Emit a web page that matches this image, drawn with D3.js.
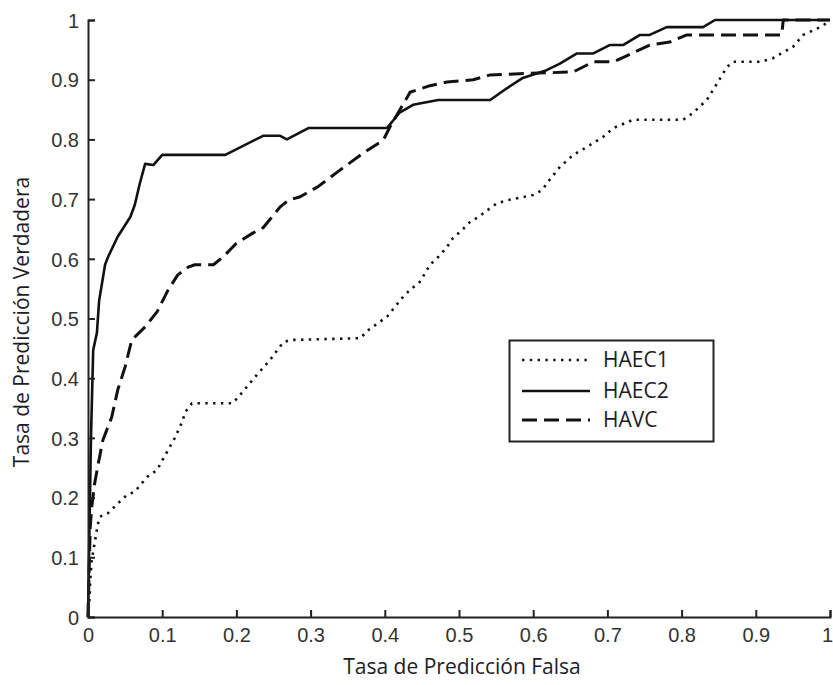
<!DOCTYPE html>
<html>
<head>
<meta charset="utf-8">
<script src="https://cdn.jsdelivr.net/npm/d3@7"></script>
<style>
  html, body { margin: 0; padding: 0; background: #fff; }
  svg { display: block; }
  .tick text { font-family: "Liberation Sans", Arial, sans-serif; font-size: 20px; fill: #333; }
  .title { font-family: "Open Sans", "Noto Sans", sans-serif; font-size: 21px; fill: #1c1c28; }
  .legend text { font-family: "Open Sans", "Noto Sans", sans-serif; font-size: 21px; fill: #1c1c28; }
</style>
</head>
<body>
<svg id="chart" width="833" height="685"></svg>
<script>
// ROC curves: false positive rate vs. true positive rate
const seriesNames = ["HAEC1", "HAEC2", "HAVC"];

const haec1Fpr = [0, 0.002, 0.003, 0.005, 0.009, 0.013, 0.016, 0.027, 0.04, 0.052, 0.063, 0.08, 0.093, 0.104, 0.117, 0.127, 0.131, 0.14, 0.195, 0.205, 0.225, 0.245, 0.263, 0.272, 0.367, 0.377, 0.403, 0.423, 0.434, 0.447, 0.461, 0.472, 0.484, 0.492, 0.504, 0.515, 0.526, 0.539, 0.551, 0.565, 0.6, 0.612, 0.62, 0.636, 0.654, 0.672, 0.694, 0.708, 0.735, 0.802, 0.815, 0.834, 0.848, 0.861, 0.869, 0.906, 0.923, 0.95, 0.964, 0.99, 1];
const haec1Tpr = [0, 0.03, 0.062, 0.095, 0.124, 0.154, 0.168, 0.174, 0.19, 0.204, 0.21, 0.235, 0.246, 0.271, 0.3, 0.327, 0.343, 0.358, 0.358, 0.372, 0.402, 0.43, 0.46, 0.464, 0.467, 0.48, 0.503, 0.534, 0.548, 0.561, 0.59, 0.603, 0.62, 0.635, 0.648, 0.662, 0.67, 0.682, 0.693, 0.698, 0.707, 0.715, 0.729, 0.754, 0.774, 0.787, 0.804, 0.819, 0.833, 0.833, 0.844, 0.866, 0.894, 0.921, 0.93, 0.93, 0.936, 0.955, 0.975, 0.99, 1];

const haec2Fpr = [0, 0.002, 0.004, 0.007, 0.012, 0.015, 0.019, 0.023, 0.027, 0.04, 0.057, 0.063, 0.07, 0.077, 0.088, 0.1, 0.185, 0.236, 0.259, 0.268, 0.297, 0.403, 0.42, 0.438, 0.472, 0.542, 0.565, 0.586, 0.618, 0.636, 0.659, 0.681, 0.703, 0.721, 0.744, 0.757, 0.78, 0.829, 0.845, 1];
const haec2Tpr = [0, 0.15, 0.3, 0.447, 0.476, 0.53, 0.56, 0.59, 0.603, 0.637, 0.67, 0.69, 0.727, 0.759, 0.757, 0.774, 0.774, 0.806, 0.806, 0.8, 0.819, 0.819, 0.845, 0.858, 0.866, 0.866, 0.886, 0.903, 0.916, 0.927, 0.944, 0.944, 0.958, 0.958, 0.975, 0.975, 0.988, 0.988, 1, 1];

const havcFpr = [0, 0.003, 0.005, 0.009, 0.014, 0.02, 0.032, 0.04, 0.05, 0.059, 0.077, 0.093, 0.108, 0.121, 0.135, 0.144, 0.169, 0.182, 0.2, 0.222, 0.236, 0.259, 0.27, 0.286, 0.309, 0.34, 0.371, 0.398, 0.407, 0.42, 0.43, 0.434, 0.461, 0.484, 0.519, 0.542, 0.582, 0.654, 0.681, 0.708, 0.726, 0.757, 0.784, 0.807, 0.935, 0.937, 1];
const havcTpr = [0, 0.15, 0.184, 0.224, 0.258, 0.296, 0.335, 0.38, 0.419, 0.464, 0.486, 0.511, 0.548, 0.573, 0.586, 0.59, 0.59, 0.603, 0.626, 0.643, 0.652, 0.687, 0.698, 0.704, 0.72, 0.749, 0.777, 0.799, 0.821, 0.849, 0.87, 0.879, 0.89, 0.896, 0.9, 0.908, 0.91, 0.913, 0.93, 0.93, 0.94, 0.958, 0.963, 0.975, 0.975, 1, 1];

const xTicks = [0, 0.1, 0.2, 0.3, 0.4, 0.5, 0.6, 0.7, 0.8, 0.9, 1];
const yTicks = [0, 0.1, 0.2, 0.3, 0.4, 0.5, 0.6, 0.7, 0.8, 0.9, 1];
const xTitle = "Tasa de Predicción Falsa";
const yTitle = "Tasa de Predicción Verdadera";

const svg = d3.select("#chart");
const margin = { left: 88, right: 3, top: 20, bottom: 68 };
const W = 833, H = 685;

const x = d3.scaleLinear().domain([0, 1]).range([margin.left, W - margin.right]);
const y = d3.scaleLinear().domain([0, 1]).range([H - margin.bottom, margin.top]);

const zip = (a, b) => a.map((v, i) => [v, b[i]]);
const series = [
  { name: seriesNames[0], pts: zip(haec1Fpr, haec1Tpr), dash: "2.4,5.4", width: 2.6 },
  { name: seriesNames[1], pts: zip(haec2Fpr, haec2Tpr), dash: null, width: 2.6 },
  { name: seriesNames[2], pts: zip(havcFpr, havcTpr), dash: "15,7", width: 3 }
];

const line = d3.line().x(d => x(d[0])).y(d => y(d[1]));

svg.selectAll("path.curve")
  .data(series)
  .join("path")
  .attr("class", "curve")
  .attr("d", d => line(d.pts))
  .attr("fill", "none")
  .attr("stroke", "#111")
  .attr("stroke-width", d => d.width)
  .attr("stroke-linejoin", "round")
  .attr("stroke-dasharray", d => d.dash);

// Axes (left and bottom only, ticks pointing inward)
const xAxis = svg.append("g")
  .attr("transform", `translate(0,${y(0)})`)
  .call(d3.axisBottom(x).tickValues(xTicks).tickSize(-7).tickPadding(19)
    .tickFormat(d => d3.format("~g")(d)));
const yAxis = svg.append("g")
  .attr("transform", `translate(${x(0)},0)`)
  .call(d3.axisLeft(y).tickValues(yTicks).tickSize(-7).tickPadding(9)
    .tickFormat(d => d3.format("~g")(d)));

[xAxis, yAxis].forEach(g => {
  g.select(".domain").attr("stroke", "#222").attr("stroke-width", 2);
  g.selectAll(".tick line").attr("stroke", "#222").attr("stroke-width", 2);
});
xAxis.selectAll(".tick text").attr("dy", "0.32em");
// keep the last label inside the page edge
xAxis.selectAll(".tick text").filter(d => d === 1).attr("dx", -3);
yAxis.selectAll(".tick text").attr("dy", "0.36em");

// Axis titles
svg.append("text").attr("class", "title")
  .attr("x", 462).attr("y", 674)
  .attr("text-anchor", "middle")
  .text(xTitle);
svg.append("text").attr("class", "title")
  .attr("transform", "translate(29,322) rotate(-90)")
  .attr("text-anchor", "middle")
  .text(yTitle);

// Legend
const legend = svg.append("g").attr("class", "legend");
legend.append("rect")
  .attr("x", 509.5).attr("y", 340.5)
  .attr("width", 204).attr("height", 101)
  .attr("fill", "#fff").attr("stroke", "#222").attr("stroke-width", 2);
const rowY = [360, 391, 420];
const items = legend.selectAll("g.item").data(series).join("g").attr("class", "item")
  .attr("transform", (d, i) => `translate(0,${rowY[i]})`);
items.append("line")
  .attr("x1", 522).attr("x2", 590)
  .attr("stroke", "#111")
  .attr("stroke-width", d => d.width)
  .attr("stroke-dasharray", d => d.dash);
items.append("text")
  .attr("x", 603).attr("dy", "0.35em")
  .text(d => d.name);
</script>
</body>
</html>
